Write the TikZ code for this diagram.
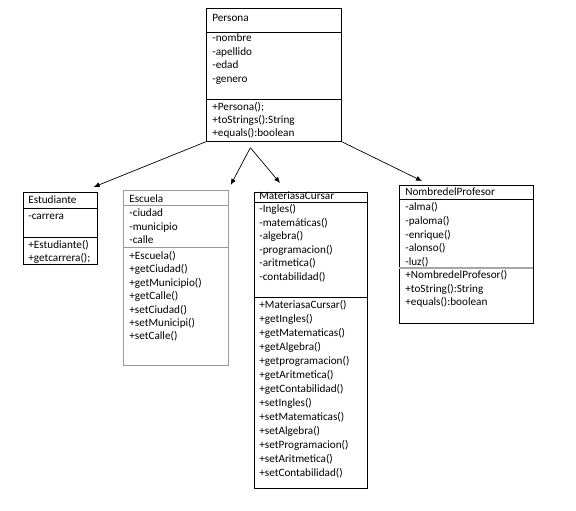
\documentclass[tikz,border=0pt]{standalone}
\usepackage{fontspec}
\setmainfont{Carlito}
\usepackage{tikz}
\usetikzlibrary{arrows, arrows.meta, calc}

\begin{document}
\begin{tikzpicture}[x=1pt, y=-1pt, >={Latex[length=6pt, width=5pt]}, line width=0.7pt,
  classbox/.style={draw, anchor=north west, inner sep=0pt},
  members/.style={anchor=base west, inner sep=0pt, font=\fontsize{11.2}{13}\selectfont}]

\useasboundingbox (0,0) rectangle (576,511);

% classes
\node (persona)[classbox, minimum width=135pt, minimum height=133pt] at (206,8) {};
\node (estudiante)[classbox, minimum width=74pt, minimum height=72pt] at (23,192) {};
\node (escuela)[classbox, draw=gray!80, minimum width=105pt, minimum height=175pt] at (123,190) {};
\node (materias)[classbox, minimum width=113pt, minimum height=296pt] at (254,192) {};
\node (profesor)[classbox, minimum width=134pt, minimum height=138pt] at (399,185) {};

% separators
\draw (persona.north west) ++(0,24) -- ++(135,0);
\draw (persona.north west) ++(0,91) -- ++(135,0);
\draw (estudiante.north west) ++(0,16) -- ++(74,0);
\draw (estudiante.north west) ++(0,45) -- ++(74,0);
\draw[gray!80] (escuela.north west) ++(0,15) -- ++(105,0);
\draw[gray!80] (escuela.north west) ++(0,57) -- ++(105,0);
\draw (materias.north west) ++(0,10) -- ++(113,0);
\draw (materias.north west) ++(0,105) -- ++(113,0);
\draw (profesor.north west) ++(0,14) -- ++(134,0);
\draw[gray!70, line width=1.2pt] (profesor.north west) ++(0,83) -- ++(134,0);

% Persona
\node (pTitle)[members] at ($(persona.north west)+(6,14)$) {Persona};
\foreach \txt [count=\i from 0] in {-nombre, -apellido, -edad, -genero}
  \node (pA\i)[members] at ($(persona.north west)+(6,33.5+13.6*\i)$) {\txt};
\foreach \txt [count=\i from 0] in {+Persona();, +toStrings():String, +equals():boolean}
  \node (pM\i)[members] at ($(persona.north west)+(6,102.5+13*\i)$) {\txt};

% Estudiante
\node (eTitle)[members] at ($(estudiante.north west)+(5,11.5)$) {Estudiante};
\node (eA0)[members] at ($(estudiante.north west)+(5,27.5)$) {-carrera};
\foreach \txt [count=\i from 0] in {+Estudiante(), +getcarrera();}
  \node (eM\i)[members] at ($(estudiante.north west)+(5,56.5+12.5*\i)$) {\txt};

% Escuela
\node (sTitle)[members] at ($(escuela.north west)+(6,12.5)$) {Escuela};
\foreach \txt [count=\i from 0] in {-ciudad, -municipio, -calle}
  \node (sA\i)[members] at ($(escuela.north west)+(6,26.5+13.5*\i)$) {\txt};
\foreach \txt [count=\i from 0] in {+Escuela(), +getCiudad(), +getMunicipio(), +getCalle(), +setCiudad(), +setMunicipi(), +setCalle()}
  \node (sM\i)[members] at ($(escuela.north west)+(6,69.5+13.4*\i)$) {\txt};

% MateriasaCursar
\node (mTitle)[members] at ($(materias.north west)+(5,7.5)$) {MateriasaCursar};
\foreach \txt [count=\i from 0] in {-Ingles(), -matemáticas(), -algebra(), -programacion(), -aritmetica(), -contabilidad()}
  \node (mA\i)[members] at ($(materias.north west)+(5,20.5+13.6*\i)$) {\txt};
\foreach \txt [count=\i from 0] in {+MateriasaCursar(), +getIngles(), +getMatematicas(), +getAlgebra(), +getprogramacion(), +getAritmetica(), +getContabilidad(), +setIngles(), +setMatematicas(), +setAlgebra(), +setProgramacion(), +setAritmetica(), +setContabilidad()}
  \node (mM\i)[members] at ($(materias.north west)+(5,116.5+14*\i)$) {\txt};

% NombredelProfesor
\node (nTitle)[members] at ($(profesor.north west)+(6,10.5)$) {NombredelProfesor};
\foreach \txt [count=\i from 0] in {-alma(), -paloma(), -enrique(), -alonso(), -luz()}
  \node (nA\i)[members] at ($(profesor.north west)+(6,25.5+13.8*\i)$) {\txt};
\foreach \txt [count=\i from 0] in {+NombredelProfesor(), +toString():String, +equals():boolean}
  \node (nM\i)[members] at ($(profesor.north west)+(6,93.5+13.5*\i)$) {\txt};

% arrows
\coordinate (fork) at ($(persona.south)+(-23.5,6)$);
\coordinate (t1) at ($(estudiante.north east)+(-4,-5)$);
\coordinate (t2) at ($(escuela.north east)+(2,-5)$);
\coordinate (t3) at ($(materias.north west)+(26,-9)$);
\coordinate (t4) at ($(profesor.north west)+(23,-4)$);
\draw[->] (persona.south west) -- (t1);
\draw[->] (fork) -- (t2);
\draw[->] (fork) -- (t3);
\draw[->] (persona.south east) -- (t4);
\end{tikzpicture}
\end{document}
